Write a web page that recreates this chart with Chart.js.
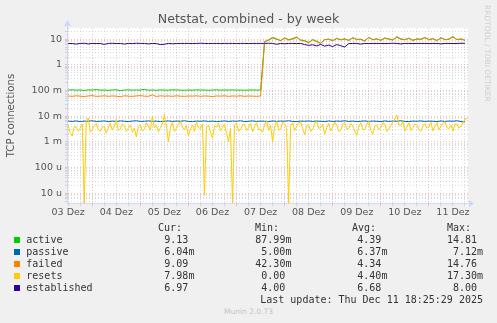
<!DOCTYPE html>
<html>
<head>
<meta charset="utf-8">
<script src="https://cdn.jsdelivr.net/npm/chart.js@4/dist/chart.umd.min.js"></script>
<style>
  html, body { margin: 0; padding: 0; background: #f0f0f0; width: 497px; height: 323px; overflow: hidden; }
  #chart { position: absolute; left: 0; top: 0; }
  .t { position: absolute; white-space: pre; }
  #title { left: 0; width: 497px; top: 11.5px; text-align: center; font: 12.6px "DejaVu Sans"; line-height: 14px; color: #555; }
  #rrd { left: 483px; top: 5px; writing-mode: vertical-rl; font: 7.5px "DejaVu Sans"; color: #cfcfcf; }
  #munin { left: 0; width: 497px; top: 307px; text-align: center; font: 7.5px "DejaVu Sans"; line-height: 9px; color: #c4c4c4; }
  .lg { font: 10px "DejaVu Sans Mono"; line-height: 12px; color: #333; }
  .box { position: absolute; width: 6px; height: 6px; }
</style>
</head>
<body>
<canvas id="chart" width="497" height="225"></canvas>
<div id="title" class="t">Netstat, combined - by week</div>
<div id="rrd" class="t">RRDTOOL / TOBI OETIKER</div>
<div id="munin" class="t">Munin 2.0.73</div>
<div id="legend"></div>
<script>
// hours since 03 Dez 00:00
const hours = [
  12,14,16,18,20,22,24,26,28,30,
  32,34,36,38,40,42,44,46,48,50,
  52,54,56,58,60,62,64,66,68,70,
  72,74,76,78,80,82,84,86,88,90,
  92,94,96,98,100,102,104,106,108,110,
  112,114,116,118,120,122,124,126,128,130,
  132,134,136,138,140,142,144,146,148,150,
  152,154,156,158,160,162,164,166,168,170,
  172,174,176,178,180,182,184,186,188,190,
  192,194,196,198,200,202,204,206,208,210
];
// resets is sampled hourly: two values per 2h slot
const resetHours = hours.flatMap(h => [h, h + 1]);

const active = [
  0.105,0.108,0.104,0.106,0.102,0.107,0.105,0.110,0.104,0.106,
  0.103,0.106,0.108,0.100,0.105,0.107,0.104,0.106,0.105,0.112,
  0.104,0.106,0.103,0.107,0.105,0.104,0.108,0.106,0.105,0.103,
  0.106,0.104,0.107,0.105,0.106,0.103,0.105,0.108,0.104,0.106,
  0.105,0.107,0.104,0.106,0.103,0.105,0.107,0.104,0.106,
  8.0,9.2,11.2,10.0,9.0,11.0,9.8,10.2,11.8,9.4,
  8.8,7.5,9.5,8.4,7.0,9.8,10.0,9.0,10.6,9.8,
  10.2,9.2,11.2,10.0,9.8,8.8,11.6,9.8,10.2,9.2,
  11.0,10.2,9.6,12.2,10.0,9.8,10.8,9.2,10.2,10.0,
  11.5,9.8,10.4,9.0,11.2,9.8,10.0,12.4,9.8,10.2,
  9.13
];

const passiveMilli = [
  6.5,6.3,6.6,6.2,6.5,6.4,6.7,6.3,6.4,6.6,
  6.2,6.5,6.3,6.6,6.4,6.2,6.5,6.7,6.3,6.4,
  6.6,6.3,6.5,6.2,6.4,6.6,6.3,6.5,6.4,6.7,
  6.3,6.2,6.5,6.4,6.6,6.3,6.5,6.2,6.4,6.6,
  6.3,6.5,6.4,6.7,6.2,6.4,6.6,6.3,6.5,6.4,
  6.2,6.6,6.3,6.5,6.4,6.7,6.3,6.2,6.5,6.4,
  6.6,6.3,6.5,6.4,6.2,6.6,6.3,6.5,6.4,6.7,
  6.3,6.5,6.2,6.4,6.6,6.3,6.5,6.4,6.2,6.6,
  6.3,6.5,6.4,6.7,6.3,6.2,6.5,6.4,6.6,6.3,
  6.5,6.4,6.2,6.6,6.3,6.5,6.4,6.7,6.2,6.0
];

const failed = [
  0.062,0.060,0.063,0.061,0.059,0.062,0.064,0.060,0.061,0.063,
  0.060,0.062,0.061,0.058,0.063,0.061,0.060,0.062,0.064,0.061,
  0.060,0.068,0.059,0.063,0.061,0.062,0.060,0.063,0.061,0.060,
  0.062,0.061,0.063,0.060,0.062,0.061,0.059,0.062,0.061,0.063,
  0.060,0.062,0.061,0.063,0.060,0.062,0.061,0.060,0.062,
  8.2,9.5,12.0,10.5,8.8,11.5,9.2,10.8,12.5,9.0,
  8.5,7.2,9.8,8.0,6.8,9.5,10.2,8.6,11.0,9.4,
  10.5,8.8,11.8,9.6,10.2,8.4,12.2,9.5,10.6,8.9,
  11.4,10.0,9.2,12.8,10.4,9.6,11.2,8.8,10.5,9.8,
  12.0,9.4,10.8,8.7,11.6,9.5,10.2,13.0,9.6,10.4,
  9.09
];

const resetsMilli = [
  4.6,2.3, 1.7,4.0, 3.8,2.6, 3.4,5.0, 0,6.5, 8.6,2.4, 3.0,4.4, 5.2,3.0, 2.6,3.8, 4.0,2.2,
  3.6,5.4, 2.9,3.9, 7.5,2.8, 3.2,5.0, 4.4,2.6, 3.5,4.6, 2.4,3.5, 1.6,4.0, 4.8,2.7, 3.1,5.6,
  4.2,2.9, 10.0,3.6, 4.5,2.5, 3.6,5.0, 12.0,4.2, 1.0,3.6, 5.8,2.6, 3.4,4.8, 6.2,3.8, 3.0,4.4,
  1.7,3.2, 4.6,2.6, 6.0,3.6, 3.3,5.0, 0.0085,3.8, 4.4,2.4, 1.4,4.2, 3.8,5.4, 2.7,3.6, 5.0,2.2,
  1.0,3.4, 0,4.6, 5.5,2.6, 3.0,4.6, 4.8,2.8, 3.6,5.2, 2.5,4.0, 5.6,3.0, 3.2,2.4, 4.6,6.8,
  2.8,4.4, 1.0,3.8, 6.5,2.9, 3.2,6.0, 5.0,3.6, 0,4.2, 5.5,2.8, 3.9,5.6, 6.0,3.4, 1.9,4.4,
  4.8,2.6, 3.0,5.4, 6.2,3.4, 3.6,4.8, 2.0,3.6, 5.2,2.7, 3.8,6.0, 4.5,2.6, 2.9,4.6, 5.8,3.2,
  3.4,5.2, 4.2,2.6, 1.8,4.0, 5.6,3.0, 3.1,4.8, 6.4,2.8, 2.0,4.2, 4.5,3.0, 3.5,5.6, 5.0,2.6,
  3.2,4.4, 6.0,8.0, 11.0,4.6, 4.4,6.2, 2.6,3.8, 5.5,2.8, 3.6,5.0, 4.8,3.0, 2.6,4.2, 5.2,3.4,
  3.9,5.8, 2.7,4.0, 5.6,3.0, 4.0,5.4, 6.2,3.6, 3.3,4.6, 2.6,5.0, 5.0,3.4, 4.2,5.6, 8.0,7.98
];

const established = [
  6.9,6.8,6.5,6.9,7.0,6.6,6.9,6.8,6.9,6.3,
  6.9,7.0,6.8,6.9,6.5,6.9,6.8,7.0,6.9,6.9,
  6.6,6.9,6.8,6.2,6.4,6.9,6.7,6.8,6.9,6.9,
  6.9,6.8,6.9,7.0,6.9,6.8,6.9,6.9,6.8,6.9,
  6.9,6.9,6.8,6.9,6.9,6.8,6.9,6.9,6.9,6.9,
  7.0,6.9,6.4,6.9,6.7,6.9,6.9,6.8,6.9,6.2,
  5.8,6.1,5.5,6.3,5.4,5.9,5.2,6.2,5.6,5.0,
  6.8,6.9,6.9,6.5,6.9,6.8,6.9,6.9,6.9,6.8,
  6.9,7.0,6.9,6.6,6.9,6.9,6.8,6.9,6.9,6.9,
  6.8,6.9,6.9,6.6,6.9,6.9,6.8,6.9,7.0,6.97
];

const seriesNames = ['active', 'passive', 'failed', 'resets', 'established'];
const seriesColors = ['#00CC00', '#0066B3', '#FF8000', '#FFCC00', '#330099'];
const seriesValues = [
  active,
  passiveMilli.map(v => v / 1000),
  failed,
  resetsMilli.map(v => v / 1000),
  established
];
const seriesHours = [hours, hours, hours, resetHours, hours];

const dayLabels = ['03 Dez', '04 Dez', '05 Dez', '06 Dez', '07 Dez', '08 Dez', '09 Dez', '10 Dez', '11 Dez'];
// labels for decades 10^-5 .. 10^1
const yTickLabels = ['10 u', '100 u', '1 m', '10 m', '100 m', '1', '10'];

const statHeaders = ['Cur:', 'Min:', 'Avg:', 'Max:'];
const statCur = ['9.13', '6.04m', '9.09', '7.98m', '6.97'];
const statMin = ['87.99m', '5.00m', '42.30m', '0.00', '4.00'];
const statAvg = ['4.39', '6.37m', '4.34', '4.40m', '6.68'];
const statMax = ['14.81', '7.12m', '14.76', '17.30m', '8.00'];
const lastUpdate = 'Last update: Thu Dec 11 18:25:29 2025';

const xMin = 11.4, xMax = 211.5;
const yMin = 4.19e-6, yMax = 27.5;
const axisColor = '#CFD6F8';
const majorGrid = 'rgba(230,120,120,0.45)';
const minorGrid = 'rgba(175,175,175,0.45)';

const xTicks = [];
for (let h = 12; h <= 210; h += 6) xTicks.push(h);
const yTicks = [];
for (let e = -6; e <= 1; e++) {
  for (let k = 1; k <= 9; k++) {
    const v = Number((k * Math.pow(10, e)).toPrecision(3));
    if (v >= yMin && v <= yMax) yTicks.push(v);
  }
}
function decade(v) {
  const e = Math.round(Math.log10(v));
  return Math.abs(v / Math.pow(10, e) - 1) < 1e-6 ? e : null;
}

const bgPlugin = {
  id: 'bg',
  beforeDraw(chart) {
    const a = chart.chartArea, c = chart.ctx;
    c.save();
    c.fillStyle = '#ffffff';
    c.fillRect(a.left, a.top, a.right - a.left, a.bottom - a.top);
    c.restore();
  },
  afterDraw(chart) {
    const a = chart.chartArea, c = chart.ctx;
    c.save();
    c.strokeStyle = axisColor;
    c.fillStyle = axisColor;
    c.lineWidth = 1;
    const lx = Math.round(a.left) + 0.5;
    const by = Math.round(a.bottom) + 0.5;
    c.beginPath();
    c.moveTo(lx, a.top); c.lineTo(lx, a.top - 3);
    c.moveTo(a.right, by); c.lineTo(a.right + 2, by);
    c.stroke();
    c.beginPath();
    c.moveTo(lx - 3.5, a.top - 2); c.lineTo(lx + 3.5, a.top - 2); c.lineTo(lx, a.top - 8); c.closePath();
    c.fill();
    c.beginPath();
    c.moveTo(a.right + 1, by - 3.5); c.lineTo(a.right + 1, by + 3.5); c.lineTo(a.right + 6, by); c.closePath();
    c.fill();
    c.restore();
  }
};

new Chart(document.getElementById('chart'), {
  type: 'line',
  data: {
    datasets: seriesNames.map((name, k) => ({
      label: name,
      // log axis cannot show 0: clamp to the axis floor like rrdtool does
      data: seriesHours[k].map((h, i) => ({ x: h, y: seriesValues[k][i] > 0 ? seriesValues[k][i] : yMin })),
      borderColor: seriesColors[k],
      borderWidth: 1,
      pointRadius: 0,
      tension: 0,
      fill: false,
      order: seriesNames.length - k
    }))
  },
  options: {
    responsive: false,
    animation: false,
    devicePixelRatio: 1,
    layout: { padding: { top: 28, right: 29, bottom: 0, left: 0 } },
    plugins: { legend: { display: false }, tooltip: { enabled: false } },
    scales: {
      x: {
        type: 'linear',
        min: xMin,
        max: xMax,
        afterBuildTicks: s => { s.ticks = xTicks.map(v => ({ value: v })); },
        afterFit: s => { s.height = 22; },
        grid: {
          color: c => (c.tick && c.tick.value % 24 === 0) ? majorGrid : minorGrid,
          tickLength: 3
        },
        border: { display: true, color: axisColor, width: 1, dash: [1, 2] },
        ticks: {
          autoSkip: false,
          maxRotation: 0,
          padding: 1,
          color: '#555',
          font: { family: 'DejaVu Sans', size: 9.5 },
          callback: v => (v % 24 === 12) ? dayLabels[(v - 12) / 24] : ''
        }
      },
      y: {
        type: 'logarithmic',
        min: yMin,
        max: yMax,
        afterBuildTicks: s => { s.ticks = yTicks.map(v => ({ value: v })); },
        afterFit: s => { s.width = 67; },
        grid: {
          color: c => (c.tick && decade(c.tick.value) !== null) ? majorGrid : minorGrid,
          tickLength: 2
        },
        border: { display: true, color: axisColor, width: 1, dash: [1, 2] },
        title: {
          display: true,
          text: 'TCP connections',
          color: '#555',
          font: { family: 'DejaVu Sans', size: 10.2 },
          padding: { top: 5, bottom: 0 }
        },
        ticks: {
          autoSkip: false,
          padding: 3,
          color: '#555',
          font: { family: 'DejaVu Sans', size: 9.5 },
          callback: v => {
            const e = decade(v);
            return (e !== null && e >= -5 && e <= 1) ? yTickLabels[e + 5] : '';
          }
        }
      }
    }
  },
  plugins: [bgPlugin]
});

// legend table
const legend = document.getElementById('legend');
const headerX = [158, 255, 352, 447];
const numRight = [188.4, 285.4, 381.4, 477];
const rowTop0 = 222, rowStep = 12;
function txt(s, style) {
  const d = document.createElement('div');
  d.className = 't lg';
  d.textContent = s;
  Object.assign(d.style, style);
  legend.appendChild(d);
}
statHeaders.forEach((h, j) => txt(h, { left: headerX[j] + 'px', top: rowTop0 + 'px' }));
const cols = [statCur, statMin, statAvg, statMax];
seriesNames.forEach((name, k) => {
  const top = rowTop0 + rowStep * (k + 1);
  const b = document.createElement('div');
  b.className = 'box';
  b.style.left = '14px';
  b.style.top = (top + 2.5) + 'px';
  b.style.background = seriesColors[k];
  legend.appendChild(b);
  txt(name, { left: '26.3px', top: top + 'px' });
  cols.forEach((col, j) => {
    const m = col[k].match(/^([\d.]+)(\D*)$/);
    txt(m[1], { right: (497 - numRight[j]) + 'px', top: top + 'px', textAlign: 'right' });
    if (m[2]) txt(m[2], { left: numRight[j] + 'px', top: top + 'px' });
  });
});
txt(lastUpdate, { right: (497 - 483) + 'px', top: (rowTop0 + rowStep * 6) + 'px' });
</script>
</body>
</html>
